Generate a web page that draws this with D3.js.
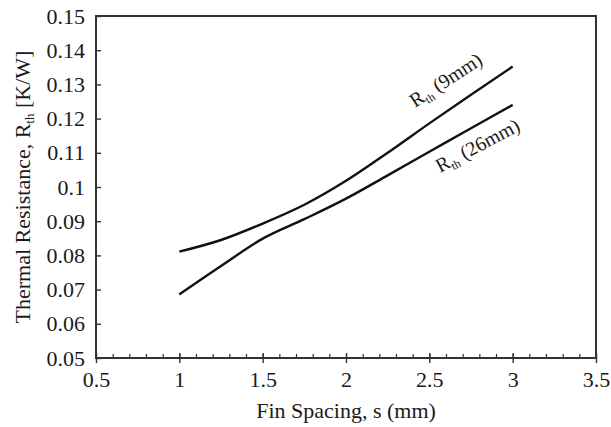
<!DOCTYPE html>
<html>
<head>
<meta charset="utf-8">
<script src="https://cdn.jsdelivr.net/npm/d3@7"></script>
<style>
  body { margin: 0; background: #fff; }
  text { font-family: "Liberation Serif", "DejaVu Serif", serif; fill: #1a1a1a; }
</style>
</head>
<body>
<svg id="chart" width="611" height="427"></svg>
<script>
// fin spacing (mm)
const spacing = [1, 1.25, 1.5, 1.75, 2, 2.25, 2.5, 2.75, 3];
// thermal resistance, 9mm fins
const rth9 = [0.0811, 0.0845, 0.0893, 0.0948, 0.1018, 0.1100, 0.1186, 0.1270, 0.1352];
// thermal resistance, 26mm fins
const rth26 = [0.0686, 0.0769, 0.0849, 0.0906, 0.0966, 0.1034, 0.1103, 0.1172, 0.1240];

const xTicks = [0.5, 1, 1.5, 2, 2.5, 3, 3.5];
const yTicks = [0.05, 0.06, 0.07, 0.08, 0.09, 0.1, 0.11, 0.12, 0.13, 0.14, 0.15];

const margin = { top: 16, right: 15, bottom: 69, left: 96 };
const width = 611, height = 427;
const innerW = width - margin.left - margin.right;
const innerH = height - margin.top - margin.bottom;
const fontSize = 22;

const svg = d3.select('#chart');
const g = svg.append('g').attr('transform', `translate(${margin.left},${margin.top})`);

const x = d3.scaleLinear().domain([0.5, 3.5]).range([0, innerW]);
const y = d3.scaleLinear().domain([0.05, 0.15]).range([innerH, 0]);

// minor x ticks (inside)
const xAxisMinor = d3.axisBottom(x)
  .tickValues(d3.range(5, 36).map(d => d / 10))
  .tickSize(-4).tickFormat('');
g.append('g').attr('transform', `translate(0,${innerH})`).call(xAxisMinor)
  .call(s => s.select('.domain').remove())
  .selectAll('line').attr('stroke', '#333').attr('stroke-width', 1.2);

// major x ticks + labels
const xAxis = d3.axisBottom(x).tickValues(xTicks).tickSize(5).tickPadding(8)
  .tickFormat(d => d3.format('')(d));
g.append('g').attr('transform', `translate(0,${innerH})`).call(xAxis)
  .call(s => s.select('.domain').remove())
  .call(s => s.selectAll('line').attr('y1', -5).attr('stroke', '#333').attr('stroke-width', 1.4))
  .call(s => s.selectAll('text').attr('font-size', fontSize).attr('font-family', '"Liberation Serif", serif').attr('fill', '#1a1a1a'));

// y axis
const yAxis = d3.axisLeft(y).tickValues(yTicks).tickSize(-5).tickPadding(11)
  .tickFormat(d => d3.format('')(+d.toFixed(2)));
g.append('g').call(yAxis)
  .call(s => s.select('.domain').remove())
  .call(s => s.selectAll('line').attr('stroke', '#333').attr('stroke-width', 1.4))
  .call(s => s.selectAll('text').attr('font-size', fontSize).attr('font-family', '"Liberation Serif", serif').attr('fill', '#1a1a1a'));

// frame
g.append('rect')
  .attr('width', innerW).attr('height', innerH)
  .attr('fill', 'none').attr('stroke', '#333').attr('stroke-width', 2);

// curves
const line = d3.line()
  .x(d => x(d[0]))
  .y(d => y(d[1]))
  .curve(d3.curveMonotoneX);

[rth9, rth26].forEach(series => {
  g.append('path')
    .datum(spacing.map((s, i) => [s, series[i]]))
    .attr('fill', 'none')
    .attr('stroke', '#111')
    .attr('stroke-width', 2.4)
    .attr('d', line);
});

// curve labels
function curveLabel(px, py, angle, size) {
  const t = svg.append('text')
    .attr('transform', `translate(${px},${py}) rotate(${angle})`)
    .attr('font-size', 20);
  t.append('tspan').text('R');
  t.append('tspan').attr('font-size', 12).attr('dy', 4).text('th');
  t.append('tspan').attr('dy', -4).text(` (${size})`);
}
curveLabel(415, 108, -33, '9mm');
curveLabel(440, 173, -28, '26mm');

// axis titles
svg.append('text')
  .attr('x', margin.left + innerW / 2).attr('y', 418)
  .attr('text-anchor', 'middle').attr('font-size', fontSize)
  .text('Fin Spacing, s (mm)');

const yt = svg.append('text')
  .attr('transform', `translate(30,${margin.top + innerH / 2}) rotate(-90)`)
  .attr('text-anchor', 'middle').attr('font-size', fontSize);
yt.append('tspan').text('Thermal Resistance, R');
yt.append('tspan').attr('font-size', 13).attr('dy', 4).text('th');
yt.append('tspan').attr('dy', -4).text(' [K/W]');
</script>
</body>
</html>
